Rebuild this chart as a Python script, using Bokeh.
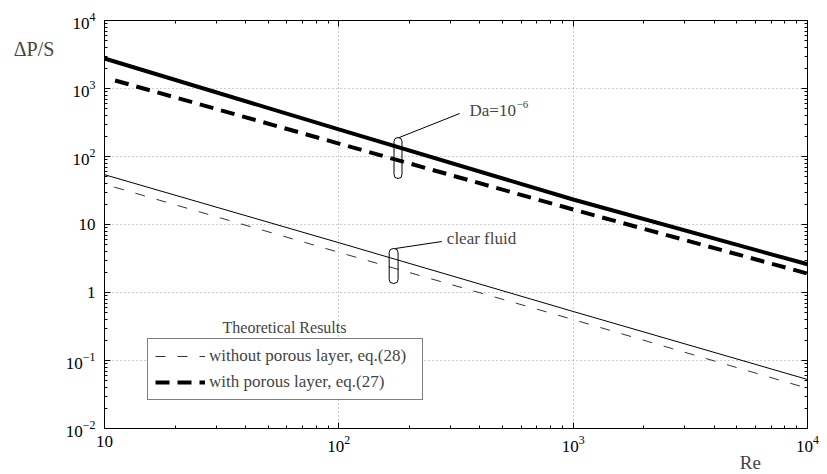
from bokeh.plotting import figure
from bokeh.models import (LogAxis, FixedTicker, LogTickFormatter, CustomJSTickFormatter,
                          Label, Legend, LegendItem)
from bokeh.embed import file_html
from bokeh.resources import INLINE

# ---------------- data ----------------
x_ticks = [10, 100, 1000, 10000]
y_ticks = [0.01, 0.1, 1, 10, 100, 1000, 10000]
plain_labels = {1: "1", 10: "10"}

# thick solid, Da = 1e-6
re_da_solid = [10, 100, 1000, 10000]
dp_da_solid = [2760, 250, 23.3, 2.6]
# thick dashed, with porous layer, eq.(27)
re_da_theory = [11.1, 100, 1000, 10000]
dp_da_theory = [1312, 155, 16.6, 1.9]
# thin solid, clear fluid
re_clear_solid = [10, 100, 1000, 10000]
dp_clear_solid = [54, 5.4, 0.526, 0.0526]
# thin dashed, without porous layer, eq.(28)
re_clear_theory = [11, 100, 1000, 10000]
dp_clear_theory = [35.5, 3.9, 0.40, 0.039]

legend_title = "Theoretical Results"
legend_labels = ["without porous layer, eq.(28)", "with porous layer, eq.(27)"]

# annotation capsules: [left, right, top, bottom]
caps_left = [172, 164]
caps_right = [186, 179]
caps_top = [190, 4.43]
caps_bottom = [47.5, 1.36]
# leader lines
lead_x0 = [181, 174]
lead_y0 = [190, 4.43]
lead_x1 = [328, 275]
lead_y1 = [429, 5.62]
# annotation texts
da_text_pos = (361, 474)
clear_text_pos = (289, 6.2)
# axis titles (placed in data coordinates outside the frame)
ytitle_pos = (4.1, 3750)
xtitle_pos = (5700, 0.0032)

FONT = "Liberation Serif"

def minors(lo, hi):
    out = []
    for k in range(lo, hi):
        for m in range(2, 10):
            out.append(m * 10.0 ** k)
    return out

p = figure(width=827, height=474, x_axis_type="log", y_axis_type="log",
           x_range=(10, 1e4), y_range=(1e-2, 1e4),
           output_backend="svg", toolbar_location=None,
           min_border_left=101, min_border_right=20, min_border_top=20, min_border_bottom=46,
           background_fill_color="white", border_fill_color="white",
           outline_line_color="black", outline_line_width=1)

xt = FixedTicker(ticks=x_ticks, minor_ticks=minors(1, 4))
yt = FixedTicker(ticks=y_ticks, minor_ticks=minors(-2, 4))

for ax, t in ((p.xaxis[0], xt), (p.yaxis[0], yt)):
    ax.ticker = t
    ax.formatter = LogTickFormatter(min_exponent=0)
    ax.major_label_overrides = plain_labels
    ax.major_label_text_font = FONT
    ax.major_label_text_font_size = "17px"
    ax.major_label_text_color = "black"
    ax.major_tick_in = 6
    ax.major_tick_out = 0
    ax.minor_tick_in = 3
    ax.minor_tick_out = 0
    ax.axis_line_color = "black"
    ax.major_tick_line_color = "black"
    ax.minor_tick_line_color = "black"
p.xaxis[0].major_label_standoff = 7
p.yaxis[0].major_label_standoff = 9

for loc, t in (("above", xt), ("right", yt)):
    a = LogAxis(ticker=t, formatter=CustomJSTickFormatter(code="return ''"),
                major_tick_in=6, major_tick_out=0, minor_tick_in=3, minor_tick_out=0,
                major_label_standoff=0, axis_line_color="black")
    p.add_layout(a, loc)

p.grid.grid_line_color = "#9a9a9a"
p.grid.grid_line_dash = "1 3"
p.grid.grid_line_width = 1
p.xgrid.ticker = xt
p.ygrid.ticker = yt

# lines
p.line(re_da_solid, dp_da_solid, line_color="black", line_width=4)
r_thick_dash = p.line(re_da_theory, dp_da_theory, line_color="black", line_width=4,
                      line_dash="14 8")
p.line(re_clear_solid, dp_clear_solid, line_color="black", line_width=1)
r_thin_dash = p.line(re_clear_theory, dp_clear_theory, line_color="#333333", line_width=1,
                     line_dash="10 12")

# capsules and leaders
p.quad(left=caps_left, right=caps_right, top=caps_top, bottom=caps_bottom,
       fill_color=None, line_color="black", line_width=1, border_radius=4)
p.segment(x0=lead_x0, y0=lead_y0, x1=lead_x1, y1=lead_y1, line_color="black", line_width=1)

p.add_layout(Label(x=da_text_pos[0], y=da_text_pos[1], text="Da=10",
                   text_font=FONT, text_font_size="17px", text_baseline="middle",
                   text_align="left"))
p.add_layout(Label(x=da_text_pos[0], y=da_text_pos[1], text="\u22126", x_offset=47, y_offset=3,
                   text_font=FONT, text_font_size="11px", text_baseline="bottom",
                   text_align="left"))
p.add_layout(Label(x=clear_text_pos[0], y=clear_text_pos[1], text="clear fluid",
                   text_font=FONT, text_font_size="17px", text_baseline="middle",
                   text_align="left"))

# legend
legend = Legend(items=[LegendItem(label=legend_labels[0], renderers=[r_thin_dash]),
                       LegendItem(label=legend_labels[1], renderers=[r_thick_dash])],
                location=(43, 28), margin=0, padding=7, spacing=6,
                glyph_width=50, glyph_height=20, label_height=20, label_standoff=4,
                label_width=206,
                label_text_font=FONT, label_text_font_size="17px",
                border_line_color="black", border_line_width=1.5,
                background_fill_color="white", background_fill_alpha=1)
p.add_layout(legend)

p.add_layout(Label(x=180, y=101, x_units="screen", y_units="screen", text=legend_title,
                   text_font=FONT, text_font_size="16px", text_align="center",
                   text_baseline="middle"))

# axis titles, in a side panel so that they are not clipped to the frame
p.add_layout(Label(x=ytitle_pos[0], y=ytitle_pos[1], text="ΔP/S",
                   text_font=FONT, text_font_size="20px", text_align="left",
                   text_baseline="middle"), "left")
p.add_layout(Label(x=xtitle_pos[0], y=xtitle_pos[1], text="Re",
                   text_font=FONT, text_font_size="19px", text_align="center",
                   text_baseline="middle"), "left")

open("out.html", "w").write(file_html(p, INLINE))
